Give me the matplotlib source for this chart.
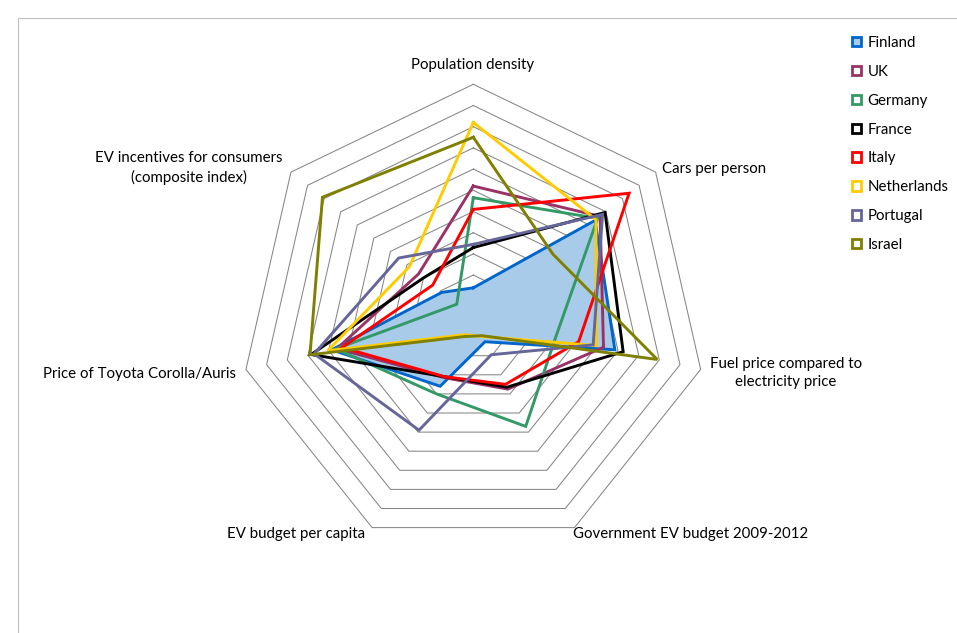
import numpy as np
import matplotlib.pyplot as plt
from matplotlib.patches import Patch, Rectangle

plt.rcParams['font.family'] = ['Lato', 'DejaVu Sans']

categories = ["Population density", "Cars per person",
              "Fuel price compared to\nelectricity price",
              "Government EV budget 2009-2012", "EV budget per capita",
              "Price of Toyota Corolla/Auris",
              "EV incentives for consumers\n(composite index)"]

countries = ["Finland", "UK", "Germany", "France", "Italy",
             "Netherlands", "Portugal", "Israel"]

finland = [1.4, 7.35, 6.85, 1.27, 3.6, 6.85, 1.9]
uk = [6.2, 7.65, 6.3, 3.75, 3.15, 6.6, 3.3]
germany = [5.65, 7.5, 4.0, 5.7, 4.0, 6.65, 1.0]
france = [3.3, 7.95, 7.25, 3.65, 3.1, 7.85, 3.0]
italy = [5.1, 9.4, 5.1, 3.5, 3.1, 6.35, 2.45]
netherlands = [9.2, 7.4, 5.95, 1.0, 0.9, 7.05, 3.85]
portugal = [3.45, 7.8, 5.8, 1.95, 5.9, 7.7, 4.5]
israel = [8.5, 4.8, 8.9, 0.95, 1.0, 7.9, 9.1]

series = [finland, uk, germany, france, italy, netherlands, portugal, israel]
colors = ["#0066CC", "#993366", "#339966", "#000000", "#FF0000",
          "#FFCC00", "#666699", "#808000"]
finland_fill = "#a9cbea"

n_rings = 11

W, H = 957, 633
fig = plt.figure(figsize=(W / 100, H / 100), dpi=100)

# chart area border (right and bottom edges run off the canvas)
fig.patches.append(Rectangle((18 / W, -0.05), 1.0, 1.05 - 18 / H,
                             transform=fig.transFigure, fill=False,
                             edgecolor="#bfbfbf", linewidth=0.8))

# plot area centred on the radar, 21.2 px per unit
cx, cy = 473.3, 317.5
px = 21.2
R = 12
ax = fig.add_axes([(cx - R * px) / W, (H - cy - R * px) / H,
                   2 * R * px / W, 2 * R * px / H])
ax.set_xlim(-R, R)
ax.set_ylim(-R, R)
ax.axis("off")

n = len(categories)
angles = np.pi / 2 - np.arange(n) * 2 * np.pi / n
ux = np.cos(angles)
uy = np.sin(angles)


def closed(v):
    v = np.asarray(v, dtype=float)
    x = v * ux
    y = v * uy
    return np.append(x, x[0]), np.append(y, y[0])


# heptagon grid
for k in range(1, n_rings + 1):
    gx, gy = closed([k] * n)
    ax.plot(gx, gy, color="#868686", lw=0.75, zorder=1)
ax.plot(0, 0, marker="s", ms=1.2, color="#555555", zorder=1)

# Finland is drawn filled, the rest as lines
fx, fy = closed(finland)
ax.fill(fx, fy, color=finland_fill, zorder=2)
for vals, col in zip(series, colors):
    x, y = closed(vals)
    ax.plot(x, y, color=col, lw=2.1, zorder=3, solid_joinstyle="miter")

# axis labels
fs = 10.8
lab = dict(fontsize=fs, color="#000000")
fig.text(473 / W, 1 - 65 / H, categories[0], ha="center", va="center", **lab)
fig.text(662 / W, 1 - 169 / H, categories[1], ha="left", va="center", **lab)
fig.text(786 / W, 1 - 373 / H, categories[2], ha="center", va="center",
         linespacing=1.4, **lab)
fig.text(691 / W, 1 - 534 / H, categories[3], ha="center", va="center", **lab)
fig.text(296 / W, 1 - 534 / H, categories[4], ha="center", va="center", **lab)
fig.text(236 / W, 1 - 374 / H, categories[5], ha="right", va="center", **lab)
fig.text(189 / W, 1 - 168 / H, categories[6], ha="center", va="center",
         linespacing=1.4, **lab)

handles = []
for name, col in zip(countries, colors):
    face = finland_fill if name == "Finland" else "white"
    handles.append(Patch(facecolor=face, edgecolor=col, linewidth=2, label=name))
fig.legend(handles=handles, loc="upper left",
           bbox_to_anchor=(852 / W, 1 - 36 / H), frameon=False,
           fontsize=fs, handlelength=0.6, handleheight=0.6,
           handletextpad=0.45, labelspacing=0.99, borderpad=0,
           borderaxespad=0)

fig.savefig("out.png", dpi=100, facecolor="white")
